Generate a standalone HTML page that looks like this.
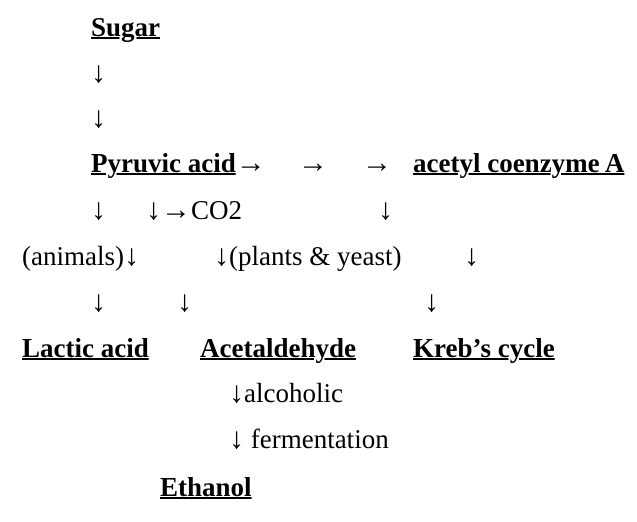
<!DOCTYPE html>
<html><head><meta charset="utf-8"><style>
body{margin:0;width:637px;height:522px;background:#fff;position:relative;overflow:hidden;font-family:"Liberation Serif","Times New Roman",serif;font-size:27px;color:#000}
div{position:absolute;line-height:32px;white-space:pre}
b{text-decoration:underline;text-decoration-thickness:2px}
i{font-style:normal;font-size:30px;line-height:32px}
</style></head><body>
<div style="left:91px;top:11px"><b>Sugar</b></div>
<div style="left:91px;top:57px"><i>↓</i></div>
<div style="left:91px;top:102px"><i>↓</i></div>
<div style="left:91px;top:147px"><b>Pyruvic acid</b><i>→</i></div>
<div style="left:298px;top:147px"><i>→</i></div>
<div style="left:362px;top:147px"><i>→</i></div>
<div style="left:413px;top:147px"><b>acetyl coenzyme A</b></div>
<div style="left:91px;top:194px"><i>↓</i></div>
<div style="left:146px;top:194px"><i>↓→</i>CO2</div>
<div style="left:378px;top:194px"><i>↓</i></div>
<div style="left:22px;top:240px">(animals)<i>↓</i></div>
<div style="left:214px;top:240px"><i>↓</i>(plants &amp; yeast)</div>
<div style="left:464px;top:240px"><i>↓</i></div>
<div style="left:91px;top:286px"><i>↓</i></div>
<div style="left:177px;top:286px"><i>↓</i></div>
<div style="left:424px;top:286px"><i>↓</i></div>
<div style="left:22px;top:332px"><b>Lactic acid</b></div>
<div style="left:200px;top:332px"><b>Acetaldehyde</b></div>
<div style="left:413px;top:332px"><b>Kreb’s cycle</b></div>
<div style="left:229px;top:377px"><i>↓</i>alcoholic</div>
<div style="left:229px;top:423px"><i>↓</i> fermentation</div>
<div style="left:160px;top:471px"><b>Ethanol</b></div>
</body></html>
